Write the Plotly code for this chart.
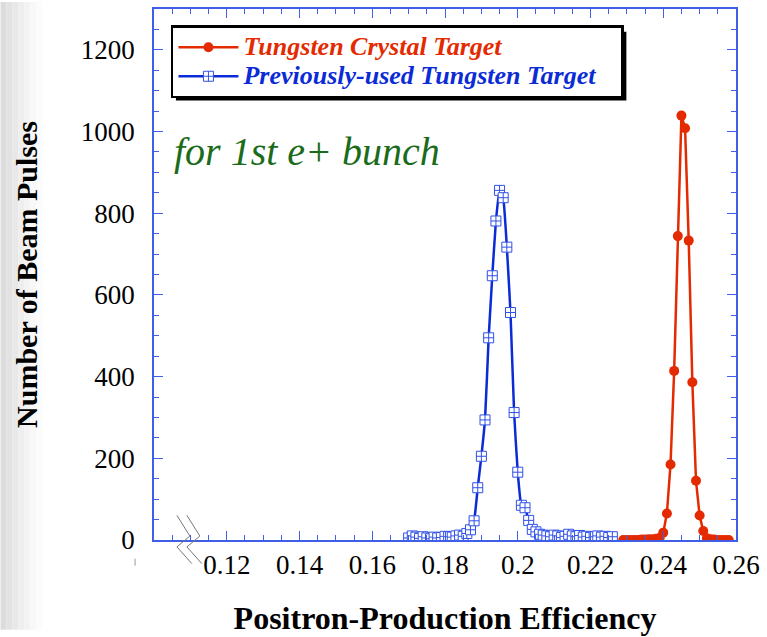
import plotly.graph_objects as go

# ---------------- data ----------------
prev_x = [0.170, 0.171, 0.172, 0.173, 0.174, 0.175, 0.176, 0.177, 0.178, 0.179,
          0.180, 0.181, 0.182, 0.183, 0.184, 0.185, 0.186, 0.187, 0.188, 0.189,
          0.190, 0.191, 0.192, 0.193, 0.194, 0.195, 0.196, 0.197, 0.198, 0.199,
          0.200, 0.201, 0.202, 0.203, 0.204, 0.205, 0.206, 0.207, 0.208, 0.209,
          0.210, 0.211, 0.212, 0.213, 0.214, 0.215, 0.216, 0.217, 0.218, 0.219,
          0.220, 0.221, 0.222, 0.223, 0.224, 0.225, 0.226]
prev_y = [5, 10, 7, 4, 8, 5, 3, 7, 5, 6,
          9, 8, 7, 10, 12, 9, 16, 25, 47, 128,
          205, 294, 495, 647, 781, 856, 838, 717, 557, 312,
          166, 85, 79, 48, 26, 20, 14, 12, 10, 8,
          12, 10, 6, 9, 14, 10, 8, 11, 7, 9,
          6, 8, 10, 7, 9, 6, 8]

cryst_x = [0.229, 0.230, 0.231, 0.232, 0.233, 0.234, 0.235, 0.236, 0.237, 0.238,
           0.239, 0.240, 0.241, 0.242, 0.243, 0.244, 0.245, 0.246, 0.247, 0.248,
           0.249, 0.250, 0.251, 0.252, 0.253, 0.254, 0.255, 0.256, 0.257, 0.258]
cryst_y = [0, 0, 0, 0, 0, 1, 1, 2, 2, 3,
           5, 18, 65, 185, 414, 744, 1039, 1008, 733, 386,
           145, 60, 22, 4, 2, 1, 0, 0, 0, 0]

x_ticks = [0.12, 0.14, 0.16, 0.18, 0.20, 0.22, 0.24, 0.26]
x_labels = ["0.12", "0.14", "0.16", "0.18", "0.2", "0.22", "0.24", "0.26"]
y_ticks = [0, 200, 400, 600, 800, 1000, 1200]

RED = "#e42a00"
BLUE = "#0b2bd6"
AXIS = "#3f5fe8"
GREEN = "#1a6b1a"
FONT = "Liberation Serif"
NB = "&nbsp;&nbsp;&nbsp;"

fig = go.Figure()
fig.add_trace(go.Scatter(
    x=cryst_x, y=cryst_y, mode="lines+markers",
    name="<b><i><span style='color:%s;font-size:26px'>Tungsten Crystal Target</span></i></b>" % RED,
    line=dict(color=RED, width=2.5),
    marker=dict(symbol="circle", size=10, color=RED),
))
fig.add_trace(go.Scatter(
    x=prev_x, y=prev_y, mode="lines+markers",
    name="<b><i><span style='color:%s;font-size:26px'>Previously-used Tungsten Target%s</span></i></b>" % (BLUE, NB),
    line=dict(color=BLUE, width=2.5, shape="spline", smoothing=0.4),
    marker=dict(symbol="square-cross", size=10, color="white",
                line=dict(color="#3050e8", width=1)),
))

L, R, T, B = 154, 738, 7, 546
W, H = 767, 637
pw = R - L
ph = B - T


def px(xp):
    return (xp - L) / pw


def py(yp):
    return (B - yp) / ph


shapes = []
greys = ["#dcdcdc", "#e2e2e2", "#e8e8e8", "#eeeeee", "#f3f3f3", "#f8f8f8", "#fcfcfc"]
for i, g in enumerate(greys):
    shapes.append(dict(type="rect", xref="paper", yref="paper",
                       x0=px(i * 6), x1=px(i * 6 + 6), y0=py(H), y1=py(0),
                       line=dict(width=0), fillcolor=g, layer="below"))
shapes.append(dict(type="rect", xref="paper", yref="paper",
                   x0=px(176), x1=px(628), y0=py(100), y1=py(30),
                   line=dict(width=0), fillcolor="black", layer="above"))
for dx in (0, 10):
    pts = [(177 + dx, 521), (190 + dx, 542), (177 + dx, 553), (192 + dx, 570)]
    path = "M " + " L ".join("%f,%f" % (px(a), py(b)) for a, b in pts)
    shapes.append(dict(type="path", xref="paper", yref="paper", path=path,
                       line=dict(color="#777777", width=1), layer="above"))
shapes.append(dict(type="line", xref="paper", yref="paper",
                   x0=px(135), x1=px(135), y0=py(565), y1=py(572),
                   line=dict(color="#999999", width=1)))

annotations = [
    dict(text="<i>for 1st e+ bunch</i>", xref="paper", yref="paper",
         x=px(172), y=py(152), xanchor="left", yanchor="middle",
         showarrow=False, font=dict(family=FONT, size=40, color=GREEN)),
]

fig.update_layout(
    width=W, height=H,
    margin=dict(l=L, r=W - R, t=T, b=H - B, pad=0),
    paper_bgcolor="white", plot_bgcolor="white",
    font=dict(family=FONT, color="black", size=26),
    showlegend=True,
    legend=dict(x=px(171), y=py(23.5), xanchor="left", yanchor="top",
                bgcolor="white", bordercolor="black", borderwidth=2.5,
                font=dict(family=FONT, size=20),
                itemwidth=60, tracegroupgap=0),
    shapes=shapes,
    annotations=annotations,
)

fig.update_xaxes(
    range=[0.1, 0.26], tickmode="array", tickvals=x_ticks, ticktext=x_labels,
    ticks="inside", ticklen=9, tickcolor=AXIS, tickwidth=1.2,
    showline=True, linecolor=AXIS, linewidth=1.5, mirror="ticks",
    showgrid=False, zeroline=False,
    tickfont=dict(family=FONT, size=27),
    minor=dict(dtick=0.005, tick0=0.1, ticks="inside", ticklen=5, tickcolor=AXIS, showgrid=False),
    title=dict(text="<b>Positron-Production Efficiency</b>", font=dict(family=FONT, size=32), standoff=27),
)
fig.update_yaxes(
    range=[0, 1300], tickmode="array", tickvals=y_ticks,
    ticks="inside", ticklen=9, tickcolor=AXIS, tickwidth=1.2,
    showline=True, linecolor=AXIS, linewidth=1.5, mirror="ticks",
    showgrid=False, zeroline=False,
    tickfont=dict(family=FONT, size=27),
    ticklabelstandoff=12,
    minor=dict(dtick=50, tick0=0, ticks="inside", ticklen=5, tickcolor=AXIS, showgrid=False),
    title=dict(text="<b>Number of Beam Pulses</b>", font=dict(family=FONT, size=30), standoff=34),
)

fig.write_html("out.html")
